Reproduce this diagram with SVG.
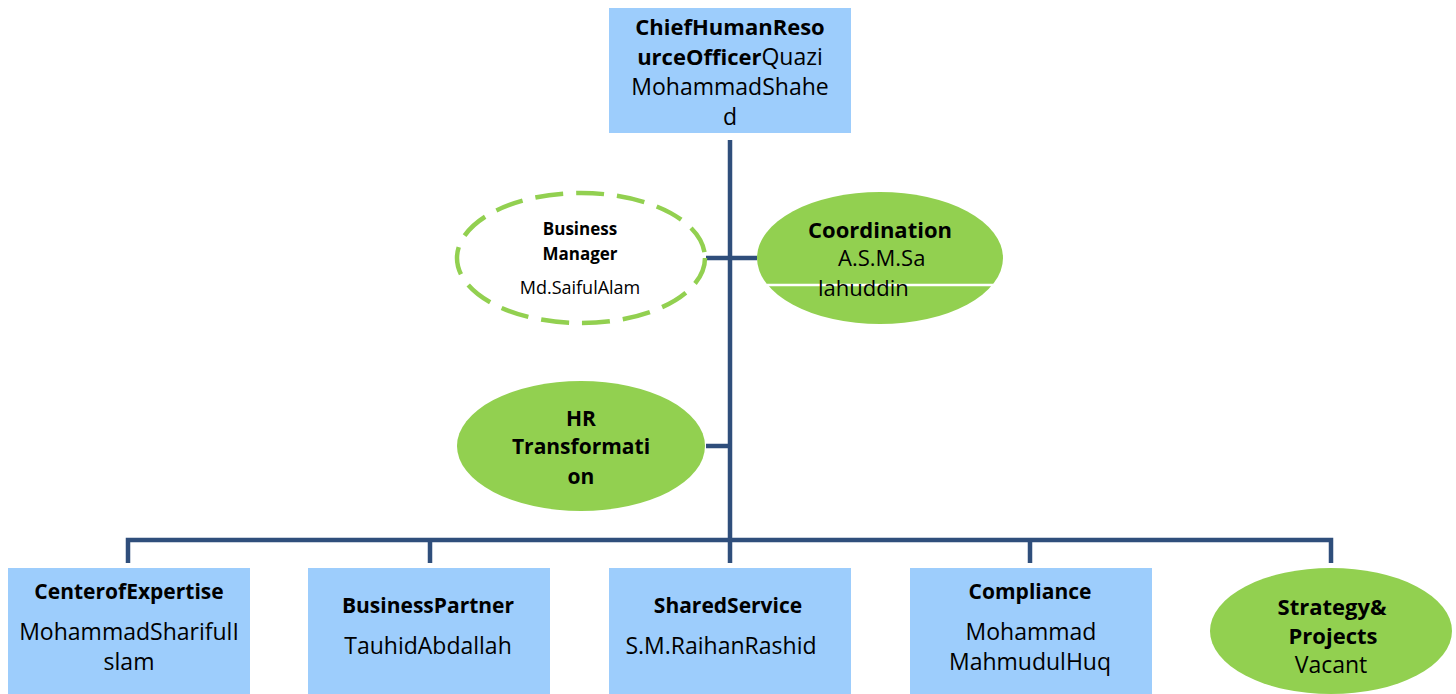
<svg xmlns="http://www.w3.org/2000/svg" width="1456" height="694" viewBox="0 0 1456 694">
<style>
.box{fill:#9dcdfc;stroke:none}
.oval{fill:#92d050;stroke:none}
.dash{fill:#ffffff;stroke:#92d050;stroke-width:4.5;stroke-dasharray:28 13}
.conn{fill:none;stroke:#2f4e7b;stroke-width:4.5}
text{font-family:"Open Sans","Liberation Sans",sans-serif;fill:#000;text-anchor:middle}
.b{font-weight:bold;font-size:21px}
.r{font-size:23px}
.tb{font-weight:bold;font-size:22px}
</style>
<rect width="1456" height="694" fill="#ffffff"/>
<g id="connectors">
<path class="conn" d="M730 140 V540"/>
<path class="conn" d="M706 258 H757"/>
<path class="conn" d="M706 446 H730"/>
<path class="conn" d="M128 563 V540 H1331 V563"/>
<path class="conn" d="M430 540 V563 M730 540 V563 M1030 540 V563"/>
</g>
<g id="chro">
<rect class="box" x="609" y="8" width="242" height="125"/>
<text x="730" y="35" class="tb">ChiefHumanReso</text>
<text x="730" y="65" class="r"><tspan font-weight="bold" font-size="22">urceOfficer</tspan>Quazi</text>
<text x="730" y="95" class="r">MohammadShahe</text>
<text x="730" y="125" class="r">d</text>
</g>
<g id="business-manager">
<ellipse class="dash" cx="581" cy="258" rx="124" ry="65"/>
<text x="580" y="235" font-size="17" font-weight="bold">Business</text>
<text x="580" y="260" font-size="17" font-weight="bold">Manager</text>
<text x="580" y="294" font-size="18">Md.SaifulAlam</text>
</g>
<g id="coordination">
<ellipse class="oval" cx="880" cy="258" rx="123" ry="66"/>
<line x1="767" y1="285" x2="998" y2="285" stroke="#ffffff" stroke-width="2.5"/>
<text x="880" y="238" class="tb">Coordination</text>
<text x="838" y="266" font-size="22" style="text-anchor:start">A.S.M.Sa</text>
<text x="818" y="296" font-size="22" style="text-anchor:start">lahuddin</text>
</g>
<g id="hr-transformation">
<ellipse class="oval" cx="581" cy="446" rx="124" ry="65"/>
<text x="581" y="426" class="b">HR</text>
<text x="581" y="454" class="b">Transformati</text>
<text x="581" y="484" class="b">on</text>
</g>
<g id="center-of-expertise">
<rect class="box" x="8" y="568" width="242" height="126"/>
<text x="129" y="599" class="b">CenterofExpertise</text>
<text x="129" y="640" class="r">MohammadSharifulI</text>
<text x="129" y="670" class="r">slam</text>
</g>
<g id="business-partner">
<rect class="box" x="308" y="568" width="242" height="126"/>
<text x="428" y="613" class="b">BusinessPartner</text>
<text x="428" y="654" class="r">TauhidAbdallah</text>
</g>
<g id="shared-service">
<rect class="box" x="609" y="568" width="242" height="126"/>
<text x="728" y="613" class="b">SharedService</text>
<text x="721" y="654" class="r">S.M.RaihanRashid</text>
</g>
<g id="compliance">
<rect class="box" x="910" y="568" width="242" height="126"/>
<text x="1030" y="599" class="b">Compliance</text>
<text x="1031" y="640" class="r">Mohammad</text>
<text x="1030" y="670" class="r">MahmudulHuq</text>
</g>
<g id="strategy-projects">
<ellipse class="oval" cx="1331" cy="631" rx="121" ry="63"/>
<text x="1332" y="615" class="tb">Strategy&amp;</text>
<text x="1333" y="644" class="tb">Projects</text>
<text x="1331" y="673" class="r">Vacant</text>
</g>
</svg>
